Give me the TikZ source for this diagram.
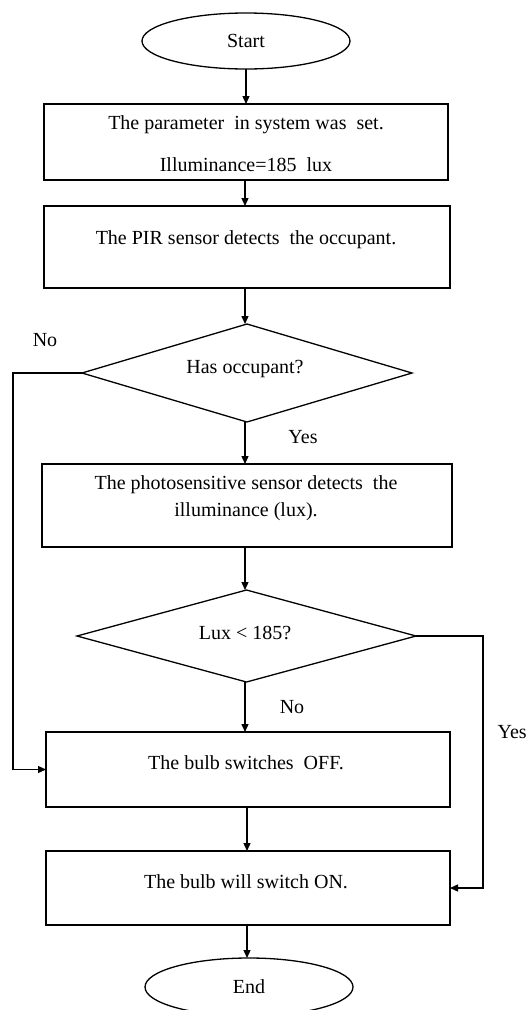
\documentclass[tikz,border=0pt]{standalone}
\usepackage{fontspec}
\setmainfont{Liberation Serif}
\usetikzlibrary{shapes.geometric,arrows.meta}
\begin{document}
\begin{tikzpicture}[x=1pt,y=-1pt,
  line width=1.3pt,
  txt/.style={font=\fontsize{20}{23}\selectfont, inner sep=0pt},
  procbox/.style={draw, rectangle, inner sep=0pt, outer sep=0pt},
  decbox/.style={draw, diamond, inner sep=0pt, outer sep=0pt},
  term/.style={draw, ellipse, inner sep=0pt, outer sep=0pt, minimum width=208pt, minimum height=56pt, font=\fontsize{20}{23}\selectfont},
  arr/.style={-{Triangle[length=8pt,width=7pt]}}
]
\useasboundingbox[fill=white] (0,0) rectangle (528,1010);

% terminals
\node[term] (start) at (246,41) {Start};
\node[term, minimum height=58pt] (end) at (249,987) {End};

% process boxes
\node[procbox, minimum width=404pt, minimum height=76pt] (b1) at (246,142) {};
\node[txt] (b1t1) at (246,125) {The parameter \ in system was \ set.};
\node[txt] (b1t2) at (246,165) {Illuminance=185 \ lux};

\node[procbox, minimum width=406pt, minimum height=82pt] (b2) at (247,247) {};
\node[txt] (b2t) at (246,240) {The PIR sensor detects \ the occupant.};

\node[procbox, minimum width=410pt, minimum height=83pt] (b3) at (247,505.5) {};
\node[txt] (b3t1) at (246,485) {The photosensitive sensor detects \ the};
\node[txt] (b3t2) at (246,512) {illuminance (lux).};

\node[procbox, minimum width=404pt, minimum height=75pt] (b4) at (248,769.5) {};
\node[txt] (b4t) at (246,763) {The bulb switches \ OFF.};

\node[procbox, minimum width=404pt, minimum height=74pt] (b5) at (248,888) {};
\node[txt] (b5t) at (246,882) {The bulb will switch ON.};

% decisions
\node[decbox, minimum width=330pt, minimum height=98pt] (d1) at (247,373) {};
\node[txt] (d1t) at (245,369) {Has occupant?};

\node[decbox, minimum width=339pt, minimum height=92pt] (d2) at (246.5,636) {};
\node[txt] (d2t) at (245,633) {Lux < 185?};

% side rails
\coordinate (L) at (13,0);
\coordinate (R) at (483,0);

% vertical flow
\draw[arr] (start.south) -- (start.south |- b1.north);
\draw[arr] (b1.south -| 245,0) -- (b2.north -| 245,0);
\draw[arr] (b2.south -| 245,0) -- (d1.north -| 245,0);
\draw[arr] (d1.south -| 245,0) -- (b3.north -| 245,0);
\draw[arr] (b3.south -| 245,0) -- (d2.north -| 245,0);
\draw[arr] (d2.south -| 245,0) -- (b4.north -| 245,0);
\draw[arr] (b4.south -| 247,0) -- (b5.north -| 247,0);
\draw[arr] (b5.south -| 247,0) -- (end.north -| 247,0);

% branches
\draw[arr] (d1.west) -- (d1.west -| L) |- (b4.west);
\draw[arr] (d2.east) -- (d2.east -| R) |- (b5.east);

% labels
\node[txt] (no1) at (45,340) {No};
\node[txt] (yes1) at (303,437) {Yes};
\node[txt] (no2) at (292,707) {No};
\node[txt, anchor=west] (yes2) at (497,732) {Yes};
\end{tikzpicture}
\end{document}
